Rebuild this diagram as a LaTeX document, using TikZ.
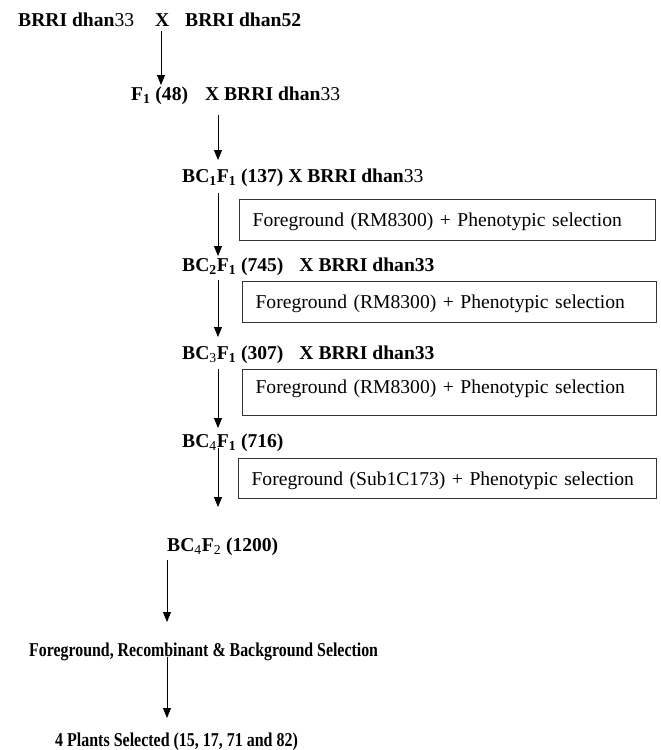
\documentclass[tikz,border=0pt]{standalone}
\usepackage{fontspec}
\setmainfont{Liberation Serif}
\usepackage{graphicx}
\usetikzlibrary{arrows.meta}
\tikzset{
  gen/.style={anchor=base west, inner sep=0pt, font=\fontsize{19.6}{22}\selectfont\bfseries},
  selbox/.style={draw=black!80, line width=1.2pt, anchor=north west, inner xsep=13pt, inner ysep=0pt,
    text width=390pt, align=left, text height=26.5pt, text depth=14.5pt, font=\fontsize{19.6}{22}\selectfont},
  flow/.style={line width=0.8pt, -{Triangle[width=8pt,length=10pt]}},
}
\newcommand{\sub}[1]{\textsubscript{#1}}
\newcommand{\subn}[1]{\textsubscript{\mdseries #1}}
\begin{document}
\begin{tikzpicture}[x=1pt, y=-1pt]
            \useasboundingbox (0,0) rectangle (661,750);
            % Parents
            \node[gen] (par1) at (18,26.7) {BRRI dhan\textmd{33}};
            \node[gen] (cross) at (155,26.7) {X};
            \node[gen] (par2) at (185,26.7) {BRRI dhan52};
            % Backcross generations
            \node[gen] (gf1) at (131,100) {F\sub{1} (48)\hspace{17pt}X BRRI dhan\textmd{33}};
            \node[gen] (gbc1) at (182,182) {BC\sub{1}F\sub{1} (137) X BRRI dhan\textmd{33}};
            \node[gen] (gbc2) at (182,271) {BC\sub{2}F\sub{1} (745)\hspace{16pt}X BRRI dhan33};
            \node[gen] (gbc3) at (182,359) {BC\subn{3}F\sub{1} (307)\hspace{16pt}X BRRI dhan33};
            \node[gen] (gbc4) at (182,447) {BC\subn{4}F\sub{1} (716)};
            \node[gen] (gbcf2) at (167,551) {BC\subn{4}F\subn{2} (1200)};
            % Final selection
            \node[gen] (fsel) at (29,656.5) {\scalebox{0.81}[1]{Foreground, Recombinant \& Background Selection}};
            \node[gen] (plants) at (55,746.5) {\scalebox{0.815}[1]{4 Plants Selected (15, 17, 71 and 82)}};
            % Marker selection boxes
            \node[selbox] (box1) at (239,199) {Foreground (RM8300) + Phenotypic selection};
            \node[selbox, text width=388pt] (box2) at (242,281) {Foreground (RM8300) + Phenotypic selection};
            \node[selbox, text width=388pt, text height=24pt, text depth=22pt] (box3) at (242,369) {Foreground (RM8300) + Phenotypic selection};
            \node[selbox, text width=392pt, text depth=13.5pt] (box4) at (238,458) {Foreground (Sub1C173) + Phenotypic selection};
            % Arrow ends
            \coordinate (e1) at (161,85);
            \coordinate (s2) at (218,115);
            \coordinate (e2) at (218,160);
            \coordinate (s3) at (218,193);
            \coordinate (e3) at (218,256);
            \coordinate (s4) at (218,280);
            \coordinate (e4) at (218,337);
            \coordinate (s5) at (218,369);
            \coordinate (e5) at (218,428);
            \coordinate (s6) at (218,448);
            \coordinate (e6) at (218,507);
            \coordinate (s7) at (167,560);
            \coordinate (e7) at (167,622);
            \coordinate (s8) at (167,657);
            \coordinate (e8) at (167,718);
            \draw[flow] (cross.south -| e1) ++(0,4) -- (e1);
            \draw[flow] (s2) -- (e2);
            \draw[flow] (s3) -- (e3);
            \draw[flow] (s4) -- (e4);
            \draw[flow] (s5) -- (e5);
            \draw[flow] (s6) -- (e6);
            \draw[flow] (s7) -- (e7);
            \draw[flow] (s8) -- (e8);
\end{tikzpicture}
\end{document}
